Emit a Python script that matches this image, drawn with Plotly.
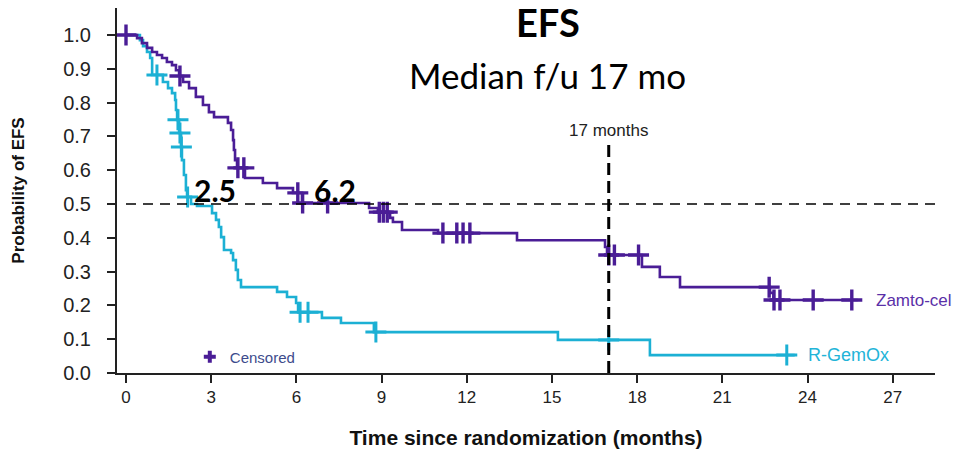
import numpy as np
import plotly.graph_objects as go

# ---- data ----
zam_t = [0, 0.39, 0.56, 0.74, 0.92, 1.09, 1.27, 1.44, 1.62, 1.76, 1.87, 2.01, 2.22, 2.46,
         2.71, 2.92, 3.10, 3.59, 3.70, 3.77, 3.80, 3.84, 3.91, 4.19, 4.82, 5.32, 5.88, 6.20,
         8.56, 8.87, 9.30, 9.40, 9.72, 10.99, 13.77, 16.87, 16.94, 18.17, 18.80, 19.51,
         22.68, 22.80, 25.77]
zam_s = [1.0, .991, .976, .962, .950, .941, .932, .920, .911, .896, .879, .861, .843, .817,
         .793, .772, .757, .740, .719, .689, .660, .630, .607, .577, .562, .547, .533, .503,
         .488, .476, .459, .447, .423, .414, .393, .373, .349, .314, .284, .254,
         .237, .216, .216]
zam_cens = [0.0, 1.90, 3.94, 4.15, 6.05, 6.22, 7.10, 8.92, 9.06, 9.20, 11.16, 11.65, 11.87,
            12.11, 17.00, 17.20, 18.05, 22.65, 22.82, 23.03, 24.20, 25.56]

rg_t = [0, 0.49, 0.60, 0.74, 0.85, 0.92, 1.30, 1.48, 1.62, 1.73, 1.76, 1.80, 1.87, 1.94,
        1.97, 2.04, 2.11, 2.15, 2.29, 2.50, 3.03, 3.17, 3.27, 3.35, 3.45, 3.70, 3.77, 3.87,
        3.94, 4.05, 5.32, 5.67, 5.99, 6.06, 6.90, 7.57, 8.73, 15.21, 18.45, 23.55]
rg_s = [1.0, .985, .967, .950, .932, .882, .861, .843, .828, .808, .778, .749, .710, .669,
        .630, .586, .541, .521, .500, .494, .473, .453, .432, .402, .364, .355, .334, .305,
        .275, .254, .240, .225, .207, .180, .163, .148, .121, .098, .053, .053]
rg_cens = [1.09, 1.83, 1.90, 1.95, 2.17, 6.13, 6.41, 8.80, 17.00, 23.27]

x_ticks = [0, 3, 6, 9, 12, 15, 18, 21, 24, 27]
y_ticks = [0.0, 0.1, 0.2, 0.3, 0.4, 0.5, 0.6, 0.7, 0.8, 0.9, 1.0]

median_zam, median_rg = 6.2, 2.5
landmark = 17
hr_text = "HR 0.39, p<0.0001"

PURPLE = "#4a1d96"
CYAN = "#1cb0d4"


def step_at(ts, ss, c):
    ts = np.asarray(ts)
    i = np.searchsorted(ts, c, side="right") - 1
    return ss[max(i, 0)]


fig = go.Figure()

fig.add_trace(go.Scatter(x=rg_t, y=rg_s, mode="lines", line=dict(color=CYAN, width=2.6, shape="hv"),
                         showlegend=False, hoverinfo="skip"))
fig.add_trace(go.Scatter(x=zam_t, y=zam_s, mode="lines", line=dict(color=PURPLE, width=2.6, shape="hv"),
                         showlegend=False, hoverinfo="skip"))
fig.add_trace(go.Scatter(x=rg_cens, y=[step_at(rg_t, rg_s, c) for c in rg_cens], mode="markers",
                         marker=dict(symbol="cross-thin", size=15, line=dict(color=CYAN, width=3)),
                         showlegend=False, hoverinfo="skip"))
fig.add_trace(go.Scatter(x=zam_cens, y=[step_at(zam_t, zam_s, c) for c in zam_cens], mode="markers",
                         marker=dict(symbol="cross-thin", size=15, line=dict(color=PURPLE, width=3.4)),
                         showlegend=False, hoverinfo="skip"))
# legend entry
fig.add_trace(go.Scatter(x=[None], y=[None], mode="markers", name="Censored",
                         marker=dict(symbol="cross", size=10, color=PURPLE)))

# reference lines
fig.add_shape(type="line", xref="x", yref="y", x0=0, x1=28.49, y0=0.5, y1=0.5,
              line=dict(color="black", width=1.5, dash="10px,7px"))
fig.add_shape(type="line", xref="x", yref="y", x0=landmark, x1=landmark, y0=0, y1=0.675,
              line=dict(color="black", width=3, dash="12px,6px"))

ann = []
ann.append(dict(x=14.86, y=1.038, text="<b>EFS</b>", font=dict(family="Lato", size=38, color="black")))
ann.append(dict(x=14.86, y=0.882, text="Median f/u 17 mo", font=dict(family="Lato", size=35, color="black")))
ann.append(dict(x=landmark, y=0.719, text="%d months" % landmark,
                font=dict(family="Liberation Sans", size=17, color="#222")))
ann.append(dict(x=28.62, y=0.561, text=hr_text, xanchor="right",
                font=dict(family="Lato", size=28, color="black")))
ann.append(dict(x=2.32, y=0.541, text="<b>%.1f</b>" % median_rg, xanchor="left",
                font=dict(family="Lato", size=30, color="black")))
ann.append(dict(x=6.55, y=0.541, text="<b>%.1f</b>" % median_zam, xanchor="left",
                font=dict(family="Lato", size=30, color="black")))
ann.append(dict(x=26.35, y=zam_s[-1], text="Zamto-cel", xanchor="left",
                font=dict(family="Liberation Sans", size=17, color="#5a30a8")))
ann.append(dict(x=23.93, y=rg_s[-1], text="R-GemOx", xanchor="left",
                font=dict(family="Liberation Sans", size=18, color="#22b4d8")))
for a in ann:
    a.setdefault("xanchor", "center")
    a.update(xref="x", yref="y", showarrow=False, yanchor="middle")

fig.update_layout(
    width=953, height=450,
    margin=dict(l=117, r=18, t=8, b=77, autoexpand=False),
    plot_bgcolor="white", paper_bgcolor="white",
    annotations=ann,
    showlegend=True,
    legend=dict(x=0.089, y=0.044, xanchor="left", yanchor="middle", bgcolor="rgba(0,0,0,0)",
                font=dict(family="Liberation Sans", size=15, color="#3d4b8c")),
    xaxis=dict(range=[-0.317, 28.49], tickvals=x_ticks, ticks="outside", ticklen=8, tickwidth=1.5,
               tickcolor="#222", showline=True, linecolor="#222", linewidth=2, showgrid=False,
               zeroline=False, automargin=False,
               tickfont=dict(family="Liberation Sans", size=17, color="#222"),
               title=dict(text="<b>Time since randomization (months)</b>", standoff=24,
                          font=dict(family="Liberation Sans", size=21, color="#111"))),
    yaxis=dict(range=[0, 1.08], tickvals=y_ticks, tickformat=".1f", ticks="outside", ticklen=8,
               tickwidth=1.5, tickcolor="#222", showline=True, linecolor="#222", linewidth=2,
               showgrid=False, zeroline=False, automargin=False, ticklabelstandoff=12,
               tickfont=dict(family="Liberation Sans", size=20, color="#222"),
               title=dict(text="<b>Probability of EFS</b>", standoff=34,
                          font=dict(family="Liberation Sans", size=17, color="#111"))),
)

fig.write_html("out.html", config={"displayModeBar": False},
               post_script="document.body.style.margin='0';")
